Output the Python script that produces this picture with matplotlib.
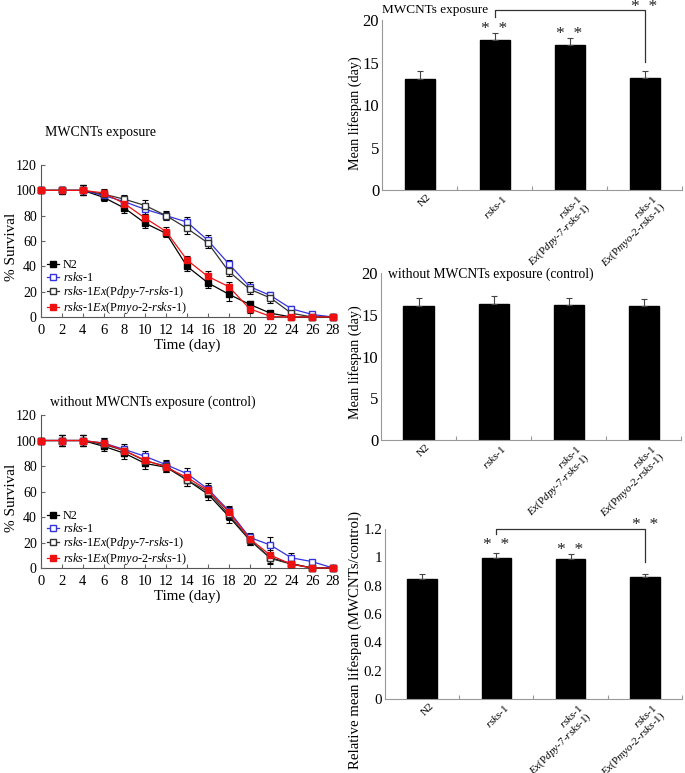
import numpy as np
import matplotlib
matplotlib.use('Agg')
import matplotlib.pyplot as plt
from matplotlib.lines import Line2D

plt.rcParams['font.family'] = 'Liberation Serif'
plt.rcParams['mathtext.fontset'] = 'custom'
plt.rcParams['mathtext.rm'] = 'Liberation Serif'
plt.rcParams['mathtext.it'] = 'Liberation Serif:italic'

# survival curves
days = np.arange(0, 29, 2)

exp_n2 = [100, 100, 100, 94.5, 86, 74, 66, 40, 27, 18, 10, 3, 0, 0, 0]
exp_rsks = [100, 100, 100, 96, 91, 85, 80, 75, 60.5, 42, 24, 17, 6.5, 2, 0]
exp_pdpy = [100, 100, 100, 97, 93, 88, 80, 70, 58.5, 36, 22, 15, 3, 0, 0]
exp_pmyo = [100, 100, 100, 98, 89.5, 78, 67.5, 45, 32, 24, 6.5, 0.5, 0, 0, 0]
exp_err_n2 = [0, 3, 4, 3, 3.5, 3.5, 3, 4, 4, 5, 3, 0.5, 0, 0, 0]
exp_err_rsks = [0, 3, 4, 3, 3, 4, 3, 4, 4, 3, 3.5, 3, 2, 1, 0]
exp_err_pdpy = [0, 3, 4, 3, 3, 4, 3.5, 4.5, 4, 4, 4, 4, 2, 0, 0]
exp_err_pmyo = [0, 3, 4, 3, 3, 3.5, 3.5, 3.5, 4, 4, 3, 0.5, 0, 0, 0]

ctl_n2 = [100, 100, 100, 95.5, 90, 82, 79, 69, 58, 40.5, 22, 8, 3.5, 0, 0]
ctl_rsks = [100, 100, 100, 98, 93, 87.5, 81, 74, 62, 45, 24, 18, 8, 5, 0]
ctl_pdpy = [100, 100, 100, 97, 92, 84, 80, 69, 60, 42, 22, 7.5, 3, 0, 0]
ctl_pmyo = [100, 100, 100, 98, 92, 84.5, 79, 71, 61, 44, 23, 10, 3, 0, 0]
ctl_err_n2 = [0, 4, 4, 4, 4.5, 4, 3.5, 5, 4.5, 5, 4, 4, 2, 0, 0]
ctl_err_rsks = [0, 4, 4, 4, 4, 4, 4, 4.5, 4.5, 4, 3.5, 6.5, 4, 1, 0]
ctl_err_pdpy = [0, 4, 4, 4, 4, 4, 4, 4.5, 4.5, 4, 4, 4.5, 2, 0, 0]
ctl_err_pmyo = [0, 4, 4, 4, 4, 4, 4, 4.5, 4.5, 4, 4, 4, 2, 0, 0]

# mean lifespan bars
groups = ['N2', r'$\mathit{rsks}$-$\mathit{1}$',
          '$\\mathit{rsks}$-$\\mathit{1}$\n$\\mathit{Ex(}$P$\\mathit{dpy}$-$\\mathit{7}$-$\\mathit{rsks}$-$\\mathit{1)}$',
          '$\\mathit{rsks}$-$\\mathit{1}$\n$\\mathit{Ex(}$P$\\mathit{myo}$-$\\mathit{2}$-$\\mathit{rsks}$-$\\mathit{1)}$']
mean_exp = [13.1, 17.6, 17.05, 13.2]
mean_exp_err = [0.9, 0.9, 0.85, 0.8]
mean_ctl = [16.0, 16.25, 16.15, 16.05]
mean_ctl_err = [1.0, 0.95, 0.85, 0.8]
rel_mean = [0.85, 0.995, 0.99, 0.86]
rel_mean_err = [0.03, 0.035, 0.03, 0.02]

legend_labels = ['N2', r'$\mathit{rsks}$-$\mathit{1}$',
                 r'$\mathit{rsks}$-$\mathit{1Ex(}$P$\mathit{dpy}$-$\mathit{7}$-$\mathit{rsks}$-$\mathit{1)}$',
                 r'$\mathit{rsks}$-$\mathit{1Ex(}$P$\mathit{myo}$-$\mathit{2}$-$\mathit{rsks}$-$\mathit{1)}$']

fig = plt.figure(figsize=(6.85, 7.73), dpi=100)

styles = [dict(color='black', mfc='black', mec='black'),
          dict(color='#3333dd', mfc='white', mec='#3333dd'),
          dict(color='#333333', mfc='white', mec='#333333'),
          dict(color='#ee1111', mfc='#ee1111', mec='#ee1111')]


def survival(ax, ys, errs):
    handles = []
    for y, e, st, lab in zip(ys, errs, styles, legend_labels):
        ax.errorbar(days, y, yerr=e, ecolor='black', elinewidth=0.8, capsize=2,
                    capthick=0.8, marker='s', markersize=4.5, lw=0.9, clip_on=False, **st)
        handles.append(Line2D([], [], marker='s', markersize=4, lw=0.9, label=lab, **st))
    ax.set_xlim(0, 28)
    ax.set_ylim(0, 120)
    ax.set_xticks(days)
    ax.set_yticks(np.arange(0, 121, 20))
    ax.tick_params(direction='in', length=3, color='#666666')
    ax.tick_params(axis='x', labelsize=10.5, pad=5)
    ax.tick_params(axis='y', labelsize=10, pad=3)
    ax.spines['top'].set_visible(False)
    ax.spines['right'].set_visible(False)
    for sp in ['left', 'bottom']:
        ax.spines[sp].set_color('#555555')
        ax.spines[sp].set_zorder(0)
    ax.set_ylabel('% Survival', fontsize=11)
    ax.yaxis.set_label_coords(-0.078, 0.46)
    ax.set_xlabel('Time (day)', fontsize=10.8, labelpad=1)
    ax.legend(handles=handles, loc='lower left', frameon=False, fontsize=8.8,
              handlelength=1.0, handletextpad=0.3, labelspacing=0.0,
              borderpad=0, borderaxespad=0, bbox_to_anchor=(0.02, 0.005))


ax1 = fig.add_axes([0.0599, 0.5899, 0.4263, 0.1966])
survival(ax1, [exp_n2, exp_rsks, exp_pdpy, exp_pmyo],
         [exp_err_n2, exp_err_rsks, exp_err_pdpy, exp_err_pmyo])
fig.text(0.066, 0.828, 'MWCNTs exposure', fontsize=10, va='center')

ax2 = fig.add_axes([0.0599, 0.2652, 0.4263, 0.1979])
survival(ax2, [ctl_n2, ctl_rsks, ctl_pdpy, ctl_pmyo],
         [ctl_err_n2, ctl_err_rsks, ctl_err_pdpy, ctl_err_pmyo])
fig.text(0.073, 0.479, 'without MWCNTs exposure (control)', fontsize=9.8, va='center')


def bars(ax, vals, errs, ymax, step, ylabel, ticksize, labsize, labcoords):
    x = np.arange(len(vals))
    ax.bar(x, vals, width=0.4, color='black', edgecolor='black')
    ax.errorbar(x, vals, yerr=[np.zeros(len(vals)), errs], fmt='none', ecolor='#444444',
                elinewidth=0.8, capsize=2.5, capthick=0.8)
    ax.set_xlim(-0.5, 3.5)
    ax.set_ylim(0, ymax)
    ax.set_yticks(np.arange(0, ymax + step / 2, step))
    ax.set_xticks(x + 0.5)
    ax.set_xticklabels([])
    ax.tick_params(axis='x', direction='in', length=3, color='#999999')
    ax.tick_params(axis='y', direction='out', length=0, labelsize=ticksize, pad=2)
    ax.spines['top'].set_visible(False)
    ax.spines['right'].set_visible(False)
    ax.spines['bottom'].set_color('#999999')
    ax.spines['left'].set_color('#999999')
    ax.set_ylabel(ylabel, fontsize=labsize)
    ax.yaxis.set_label_coords(*labcoords)
    for i, lab in enumerate(groups):
        ax.annotate(lab, xy=(x[i], 0), xycoords=('data', 'axes fraction'),
                    xytext=(5, -2), textcoords='offset points', rotation=45,
                    rotation_mode='anchor', ha='right', va='top', fontsize=8,
                    multialignment='right', linespacing=0.95)


def stars(ax, x, y):
    ax.text(x, y, '*  *', ha='center', va='center', fontsize=12.5, color='#222222')


ax3 = fig.add_axes([0.5577, 0.7542, 0.438, 0.2199])
bars(ax3, mean_exp, mean_exp_err, 20, 5, 'Mean lifespan (day)', 12, 10.2, (-0.067, 0.45))
ax3.set_yticklabels(['0', '5', '10', '15', '20'])
ax3.text(0.0, 1.06, 'MWCNTs exposure', transform=ax3.transAxes, fontsize=9.5, va='center')
stars(ax3, 1, mean_exp[1] + mean_exp_err[1] + 0.4)
stars(ax3, 2, mean_exp[2] + mean_exp_err[2] + 0.5)
ax3.plot([1, 1, 3, 3], [20.4, 21.2, 21.2, 15.1], color='#333333', lw=0.9, clip_on=False)
stars(ax3, 3, 21.55)

ax4 = fig.add_axes([0.5562, 0.4308, 0.438, 0.216])
bars(ax4, mean_ctl, mean_ctl_err, 20, 5, 'Mean lifespan (day)', 12, 10.2, (-0.063, 0.467))
ax4.set_yticklabels(['0', '5', '10', '15', '20'])
ax4.text(0.025, 0.99, 'without MWCNTs exposure (control)', transform=ax4.transAxes,
         fontsize=9.8, va='center')

ax5 = fig.add_axes([0.562, 0.0957, 0.4336, 0.22])
bars(ax5, rel_mean, rel_mean_err, 1.2, 0.2, 'Relative mean lifespan (MWCNTs/control)',
     10.8, 10.7, (-0.077, 0.35))
ax5.set_yticklabels(['0', '0.2', '0.4', '0.6', '0.8', '1', '1.2'])
stars(ax5, 1, rel_mean[1] + rel_mean_err[1] + 0.054)
stars(ax5, 2, rel_mean[2] + rel_mean_err[2] + 0.03)
ax5.plot([1, 1, 3, 3], [1.165, 1.2, 1.2, 0.967], color='#333333', lw=0.9, clip_on=False)
stars(ax5, 3, 1.225)

fig.savefig('out.png', dpi=100)
